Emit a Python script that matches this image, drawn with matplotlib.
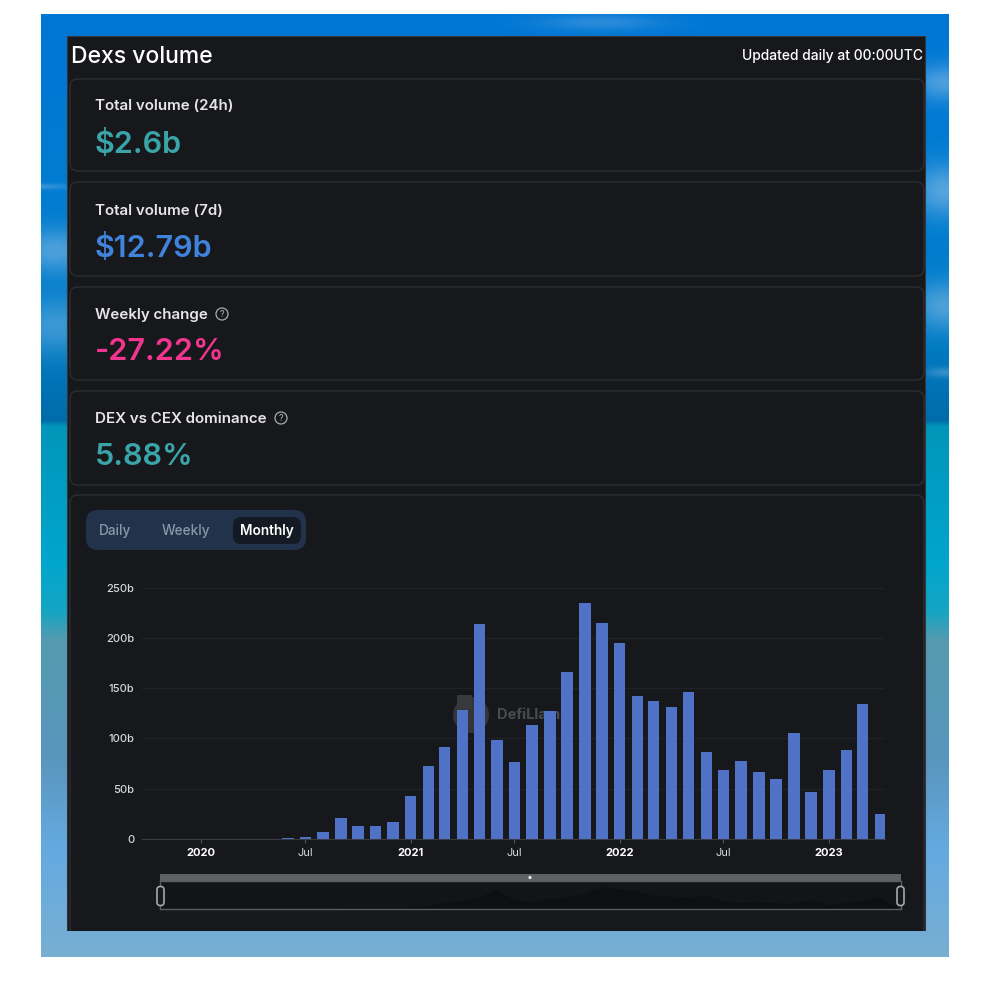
import datetime as dt

import numpy as np
import matplotlib
matplotlib.use("Agg")
import matplotlib.pyplot as plt
from matplotlib.patches import FancyBboxPatch, Circle, Rectangle
from matplotlib.ticker import FuncFormatter

W, H = 984, 982

# Monthly dex volume in billions
volumes = [0.05, 0.05, 0.1, 0.1, 0.2, 0.5, 2, 7, 20.5, 13, 13, 17,   # 2020
           43, 73, 91, 128, 214, 98, 77, 113.5, 127, 166, 235, 215,  # 2021
           195, 142, 137, 131, 146, 86, 68.5, 78, 67, 60, 105, 46.5,  # 2022
           69, 88, 134, 25]  # 2023

months = [dt.date(2020 + i // 12, i % 12 + 1, 1) for i in range(len(volumes))]

PANEL = '#17181c'
BORDER = '#2b2c31'
BAR = '#4f72c7'


def axesAt(fig, left, top, right, bottom):
    # Place an axes using pixel coordinates measured from the top left
    return fig.add_axes([left / W, 1 - bottom / H, (right - left) / W, (bottom - top) / H])


def pixelAxes(fig):
    # Full figure layer where data coordinates are pixels
    ax = fig.add_axes([0, 0, 1, 1])
    ax.set_xlim(0, W)
    ax.set_ylim(H, 0)
    ax.axis('off')
    return ax


def makeBackground():
    # Sky and sea behind the panel
    stops = [(14, (0, 118, 212)), (180, (0, 124, 210)), (330, (0, 125, 200)),
             (420, (0, 108, 170)), (426, (0, 150, 185)), (560, (0, 165, 205)),
             (610, (20, 165, 195)), (640, (85, 155, 175)), (760, (90, 150, 190)),
             (850, (100, 170, 225)), (957, (120, 175, 210))]
    ys = np.arange(14, 957)
    xs = np.arange(41, 949)
    pos = [s[0] for s in stops]
    img = np.zeros((len(ys), len(xs), 3))
    for c in range(3):
        img[:, :, c] = np.interp(ys, pos, [s[1][c] for s in stops])[:, None]

    # Soft clouds at the panel edges
    clouds = [(40, 186, 30, 3, 0.3), (55, 250, 40, 22, 0.45), (55, 325, 40, 28, 0.35),
              (945, 82, 35, 18, 0.45), (945, 190, 35, 26, 0.5), (945, 305, 35, 24, 0.45),
              (945, 372, 20, 5, 0.3), (600, 22, 60, 8, 0.25)]
    xx, yy = np.meshgrid(xs, ys)
    for cx, cy, sx, sy, a in clouds:
        g = a * np.exp(-((xx - cx) / sx) ** 2 - ((yy - cy) / sy) ** 2)
        img = img * (1 - g[:, :, None]) + np.array([170, 205, 235]) * g[:, :, None]
    return img / 255


def card(ax, x0, y0, x1, y1):
    ax.add_patch(FancyBboxPatch((x0 + 8, y0 + 8), x1 - x0 - 16, y1 - y0 - 16,
                                boxstyle="round,pad=8,rounding_size=8",
                                fc=PANEL, ec=BORDER, lw=1.1))


def helpIcon(ax, x, y):
    ax.add_patch(Circle((x, y), 6, fc='none', ec='#a9abb0', lw=0.9))
    ax.text(x, y + 0.3, '?', color='#b5b7bb', fontsize=6.5, ha='center', va='center')


plt.rcParams['font.family'] = ['Inter', 'DejaVu Sans']

fig = plt.figure(figsize=(W / 100, H / 100), dpi=100, facecolor='white')

page = pixelAxes(fig)
bg = makeBackground()
page.imshow(bg, extent=(41, 949, 957, 14), aspect='auto', zorder=0)
page.set_xlim(0, W)
page.set_ylim(H, 0)
page.add_patch(Rectangle((67, 36), 858, 895, fc=PANEL, ec='#33353a', lw=0.8, zorder=1))

page.text(71, 56.5, 'Dexs volume', color='white', fontsize=16.5, va='center', weight='medium')
page.text(923, 56, 'Updated daily at 00:00UTC', color='white', fontsize=10, va='center', ha='right', weight='medium')

# card top, card bottom, label y, value y, label, value, colour
stats = [(79, 171, 106, 144, 'Total volume (24h)', '$2.6b', '#3aa5a8'),
         (182, 276, 211, 248, 'Total volume (7d)', '$12.79b', '#3f83dc'),
         (287, 380, 315, 352, 'Weekly change', '-27.22%', '#f2358f'),
         (391, 485, 419, 457, 'DEX vs CEX dominance', '5.88%', '#3aa5a8')]
for y0, y1, label_y, value_y, label, value, colour in stats:
    card(page, 70, y0, 924, y1)
    page.text(95, label_y, label, color='#e6e6e8', fontsize=10.9, va='center', weight='semibold')
    page.text(95, value_y, value, color=colour, fontsize=22, va='center', weight='semibold')
helpIcon(page, 222, 314)
helpIcon(page, 281, 418)

# Chart card runs off the bottom of the panel
card(page, 70, 495, 924, 945)
page.imshow(bg[917:], extent=(41, 949, 957, 931), aspect='auto', zorder=2)
page.set_xlim(0, W)
page.set_ylim(H, 0)

# Daily / Weekly / Monthly switch
page.add_patch(FancyBboxPatch((98, 522), 196, 16, boxstyle="round,pad=12,rounding_size=12",
                              fc='#22324a', ec='none'))
page.add_patch(FancyBboxPatch((241, 525), 52, 11, boxstyle="round,pad=8,rounding_size=8",
                              fc='#141a24', ec='none'))
for x, label, colour, weight in [(115.5, 'Daily', '#8a97a8', 'medium'), (186, 'Weekly', '#8a97a8', 'medium'),
                                 (266.5, 'Monthly', 'white', 'semibold')]:
    page.text(x, 531, label, color=colour, fontsize=9.8, ha='center', va='center', weight=weight)

# Watermark sits under the bars
page.add_patch(Circle((471, 715), 18, fc='#343538', ec='none', zorder=3))
page.add_patch(Rectangle((457, 695), 15, 14, fc='#38393c', ec='none', zorder=3))
page.text(497, 715, 'DefiLlama', color='#4a4b4e', fontsize=10.5, weight='bold', va='center', zorder=3)

xmin = dt.date(2019, 9, 20)
xmax = dt.date(2023, 4, 9)

ax = axesAt(fig, 142, 587.5, 885, 839)
ax.patch.set_alpha(0)
ax.bar(months, volumes, width=20, color=BAR, zorder=3)
ax.set_xlim(xmin, xmax)
ax.set_ylim(0, 250)
ax.set_yticks([0, 50, 100, 150, 200, 250])
ax.yaxis.set_major_formatter(FuncFormatter(lambda v, _: '0' if v == 0 else f'{v:.0f}b'))
ax.grid(axis='y', color='#212227', lw=0.9, zorder=0)
ax.set_axisbelow(True)
for side in ['top', 'left', 'right']:
    ax.spines[side].set_visible(False)
ax.spines['bottom'].set_color('#3a3b40')
ax.tick_params(axis='y', length=0, colors='#d6d7da', labelsize=8, pad=5.5)
for label in ax.get_yticklabels():
    label.set_fontweight('medium')

ticks = [dt.date(2020, 1, 1), dt.date(2020, 7, 1), dt.date(2021, 1, 1), dt.date(2021, 7, 1),
         dt.date(2022, 1, 1), dt.date(2022, 7, 1), dt.date(2023, 1, 1)]
ax.set_xticks(ticks)
ax.set_xticklabels([t.strftime('%Y') if t.month == 1 else t.strftime('%b') for t in ticks])
ax.tick_params(axis='x', length=3, color='#55565a', colors='#d8d8da', labelsize=8, pad=3.5)
for label, t in zip(ax.get_xticklabels(), ticks):
    if t.month == 1:
        label.set_fontweight('bold')
        label.set_color('white')

# Range slider under the chart
slider = axesAt(fig, 160, 881, 901, 909)
slider.set_facecolor('#131417')
slider.fill_between(months, volumes, color='#0e0f11', lw=0, zorder=1)
slider.set_xlim(xmin, xmax)
slider.set_ylim(0, 300)
slider.set_xticks([])
slider.set_yticks([])
for spine in slider.spines.values():
    spine.set_color('#5b5c60')
    spine.set_linewidth(1)

# Handles go on a layer above the slider
top = pixelAxes(fig)
top.patch.set_alpha(0)
top.add_patch(Rectangle((160, 874), 741, 7, fc='#5f6063', ec='none'))
top.add_patch(Circle((530, 877.5), 1.6, fc='#e8e8e8', ec='none'))
for x in [160.5, 900.5]:
    top.add_patch(FancyBboxPatch((x - 2, 888), 4, 16, boxstyle="round,pad=1.5,rounding_size=3",
                                 fc=PANEL, ec='#a6a7aa', lw=1.2))

fig.savefig('out.png', dpi=100)
